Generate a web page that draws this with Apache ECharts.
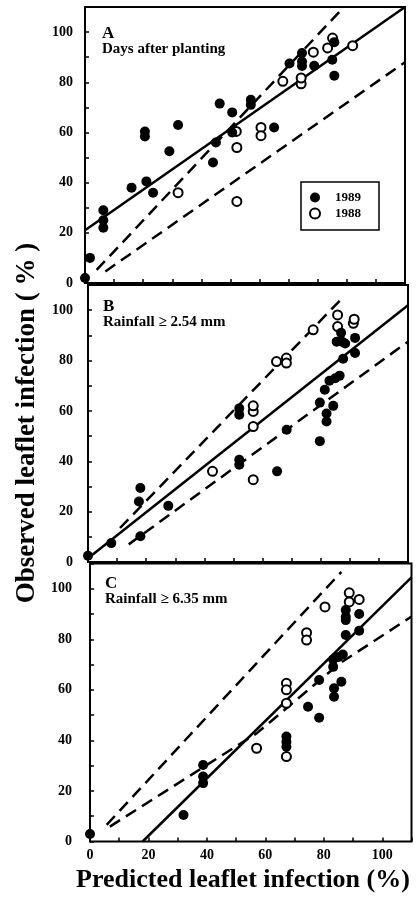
<!DOCTYPE html>
<html>
<head>
<meta charset="utf-8">
<script src="https://cdn.jsdelivr.net/npm/echarts@6/dist/echarts.min.js"></script>
<style>
html, body { margin: 0; padding: 0; background: #fff; }
#chart { width: 416px; height: 898px; }
</style>
</head>
<body>
<div id="chart"></div>
<script>
// tick labels
var tickLabels = [0, 20, 40, 60, 80, 100];

// A: days after planting
var aFilled = [[0,2],[1.7,10],[6.3,29],[6.3,25],[6.3,22],[16,38],[20.6,60.4],[20.6,58.4],[21.1,40.5],[23.4,36],[29,52.5],[32,63],[44,48],[45,56],[46.3,71.5],[50.6,68],[50.6,60],[57,73],[57,71],[65,62],[70.3,87.5],[74.6,91.7],[74.6,88.3],[74.6,86.5],[78.8,86.6],[85,89],[85.7,82.6],[85.7,96]];
var aOpen = [[32,36],[52.2,32.5],[52.2,54],[52,60.4],[60.5,62],[60.5,58.7],[68,80.4],[74.3,79.4],[74.3,81.7],[78.5,92],[83.4,93.7],[85.1,97.6],[92,94.6]];
var aSolid = [[0,21],[110,110]];
var aUpper = [[4,5.2],[89,110]];
var aLower = [[7,4.6],[110,88]];

// B: rainfall >= 2.54 mm
var bFilled = [[0,2.5],[8,7.5],[18,29.4],[17.5,24],[18,10.2],[27.6,22.3],[52,40.6],[52,38.6],[52,61],[52,58.5],[65,36],[68.3,52.5],[79.7,48],[79.7,63.3],[81.4,68.4],[83,72],[85,73],[86.5,74],[82,59],[82,55.8],[84.3,62],[85.5,87.5],[87.3,87.5],[88.4,86.8],[87,91],[87.7,80.7],[91.8,89],[91.8,83]];
var bOpen = [[42.8,36],[56.8,32.7],[56.8,53.8],[56.8,59.8],[56.8,62],[64.8,79.6],[68.2,81],[68.2,79],[77.4,92.2],[85.8,98.1],[85.8,93.5],[91.2,94.8],[91.5,96.4]];
var bSolid = [[0,1.5],[110,102]];
var bUpper = [[11,13.5],[88,105.5]];
var bLower = [[14,7],[110,87.5]];

// C: rainfall >= 6.35 mm
var cFilled = [[0,3],[32,10.5],[38.7,30.3],[38.7,25.7],[38.7,23.1],[67.2,41.5],[67.2,39.5],[67.2,37.5],[74.6,53.3],[78.4,49],[78.4,63.9],[83.2,69.1],[83.2,72],[85,73],[86.5,74],[83.5,60.6],[83.5,57.3],[86,63.2],[87.5,81.7],[87.5,87.6],[87.5,88.9],[87.5,91.6],[92.1,90],[92.1,83.4]];
var cOpen = [[57,36.9],[67.2,33.6],[67.2,62.6],[67.2,60],[67.2,54.7],[74.1,82.6],[74.1,79.7],[80.4,92.8],[88.7,98.4],[88.7,94.8],[92.1,95.8]];
var cSolid = [[18,0],[110,104.5]];
var cUpper = [[5.7,6.6],[86,106.7]];
var cLower = [[6.8,5.9],[40,30.3],[57,42.8],[85.5,70.5],[110,89]];

(function(){

var myChart = echarts.init(document.getElementById('chart'));
var serif = '"Liberation Serif", "DejaVu Serif", serif';

function fmt(v) {
    return tickLabels.indexOf(v) > -1 ? String(v) : '';
}

function xAx(i, show) {
    return {
        type: 'value', gridIndex: i, min: 0, max: 110, interval: 10,
        axisLine: { show: false },
        splitLine: { show: false },
        axisTick: { inside: true, length: 4, lineStyle: { color: '#000', width: 1.5 } },
        axisLabel: { show: show, formatter: fmt, color: '#000', fontFamily: serif, fontWeight: 'bold', fontSize: 14, margin: 7 }
    };
}

function yAx(i, margin) {
    return {
        type: 'value', gridIndex: i, min: 0, max: 110, interval: 10,
        axisLine: { show: false },
        splitLine: { show: false },
        axisTick: { inside: true, length: 4, lineStyle: { color: '#000', width: 1.5 } },
        axisLabel: { formatter: fmt, color: '#000', fontFamily: serif, fontWeight: 'bold', fontSize: 14, margin: margin }
    };
}

function filled(i, d) {
    return { name: '1989', type: 'scatter', xAxisIndex: i, yAxisIndex: i, data: d, symbolSize: 10, z: 5,
        itemStyle: { color: '#000', opacity: 1 } };
}
function open(i, d) {
    return { name: '1988', type: 'scatter', xAxisIndex: i, yAxisIndex: i, data: d, symbolSize: 9, z: 4,
        itemStyle: { color: '#fff', borderColor: '#000', borderWidth: 2, opacity: 1 } };
}
function line(i, d, dashed) {
    return { name: 'fit', type: 'line', xAxisIndex: i, yAxisIndex: i, data: d, symbol: 'none', z: 2, silent: true,
        lineStyle: { color: '#000', width: 2.5, type: dashed ? [12, 7] : 'solid' } };
}

function label(x, y, big, small) {
    return [
        { type: 'text', x: x, y: y, style: { text: big, font: 'bold 17px ' + serif, fill: '#000' } },
        { type: 'text', x: x, y: y + 17, style: { text: small, font: 'bold 15px ' + serif, fill: '#000' } }
    ];
}

var grid = { show: true, borderColor: '#000', borderWidth: 2, backgroundColor: 'transparent' };

option = {
    backgroundColor: '#fff',
    animation: false,
    grid: [
        Object.assign({ left: 85, top: 7, width: 320, height: 276 }, grid),
        Object.assign({ left: 88, top: 285, width: 320, height: 277 }, grid),
        Object.assign({ left: 90, top: 563.5, width: 321.5, height: 278 }, grid)
    ],
    xAxis: [xAx(0, false), xAx(1, false), xAx(2, true)],
    yAxis: [yAx(0, 12), yAx(1, 15), yAx(2, 18)],
    legend: {
        data: ['1989', '1988'],
        orient: 'vertical',
        left: 301, top: 182,
        padding: [9, 18, 10, 8],
        itemGap: 3,
        itemWidth: 10, itemHeight: 10,
        borderColor: '#000', borderWidth: 1.5,
        textStyle: { color: '#000', fontFamily: serif, fontWeight: 'bold', fontSize: 13, padding: [0, 0, 0, 10] }
    },
    graphic: [].concat(
        label(102, 25, 'A', 'Days after planting'),
        label(103, 298, 'B', 'Rainfall ≥ 2.54 mm'),
        label(105, 575, 'C', 'Rainfall ≥ 6.35 mm'),
        [
            { type: 'text', x: 243, y: 880, style: { text: 'Predicted leaflet infection (%)', font: 'bold 26px ' + serif, fill: '#000', align: 'center', verticalAlign: 'middle' } },
            { type: 'text', x: 27, y: 423, rotation: Math.PI / 2, style: { text: 'Observed leaflet infection ( % )', font: 'bold 27px ' + serif, fill: '#000', align: 'center', verticalAlign: 'middle' } }
        ]
    ),
    series: [
        line(0, aSolid, false), line(0, aUpper, true), line(0, aLower, true),
        open(0, aOpen), filled(0, aFilled),
        line(1, bSolid, false), line(1, bUpper, true), line(1, bLower, true),
        open(1, bOpen), filled(1, bFilled),
        line(2, cSolid, false), line(2, cUpper, true), line(2, cLower, true),
        open(2, cOpen), filled(2, cFilled)
    ]
};

myChart.setOption(option);
})();
</script>
</body>
</html>
